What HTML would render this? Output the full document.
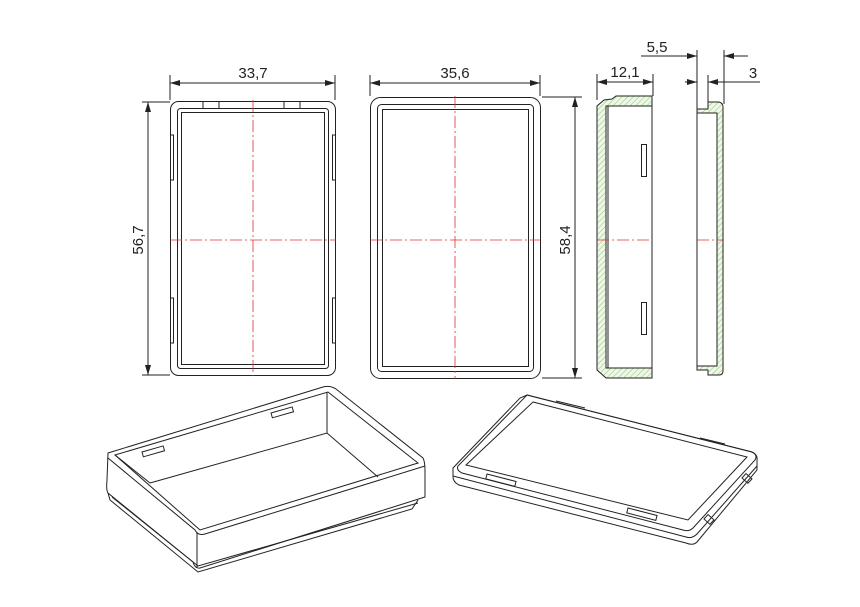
<!DOCTYPE html>
<html><head><meta charset="utf-8"><style>
html,body{margin:0;padding:0;background:#fff}
svg{display:block}
text{font-family:"Liberation Sans",sans-serif;font-size:15px;fill:#222}
</style></head><body>
<svg width="860" height="607" viewBox="0 0 860 607" xmlns="http://www.w3.org/2000/svg">
<defs>
<pattern id="h" width="4" height="4" patternUnits="userSpaceOnUse" patternTransform="rotate(45)">
<rect width="4" height="4" fill="#eef8e6"/><line x1="0" y1="0" x2="0" y2="4" stroke="#8fc07a" stroke-width="1"/>
</pattern>
<marker id="a" markerWidth="10" markerHeight="6" refX="10" refY="3" orient="auto" markerUnits="userSpaceOnUse">
<path d="M0,0 L10,3 L0,6 Z" fill="#222"/></marker>
</defs>
<g fill="none" stroke="#222" stroke-width="1">
<!-- View 1 -->
<rect x="170.5" y="101.5" width="165" height="274" rx="8"/>
<rect x="177.5" y="108.5" width="151" height="260" rx="3"/>
<rect x="181.5" y="112.5" width="143" height="252"/>
<line x1="203" y1="102" x2="203" y2="108"/><line x1="219" y1="102" x2="219" y2="108"/>
<line x1="284" y1="102" x2="284" y2="108"/><line x1="300" y1="102" x2="300" y2="108"/>
<rect x="170.5" y="135" width="3" height="45"/><rect x="170.5" y="298" width="3" height="45"/>
<rect x="332.5" y="135" width="3" height="45"/><rect x="332.5" y="298" width="3" height="45"/>
<line x1="170" y1="75" x2="170" y2="100"/><line x1="335" y1="75" x2="335" y2="100"/>
<line x1="253" y1="83" x2="170" y2="83" marker-end="url(#a)"/><line x1="253" y1="83" x2="335" y2="83" marker-end="url(#a)"/>
<line x1="142" y1="102" x2="170" y2="102"/><line x1="142" y1="375" x2="170" y2="375"/>
<line x1="148" y1="240" x2="148" y2="102" marker-end="url(#a)"/><line x1="148" y1="240" x2="148" y2="375" marker-end="url(#a)"/>
<!-- View 2 -->
<rect x="370.5" y="97.5" width="170" height="281" rx="10"/>
<rect x="377.5" y="104.5" width="156" height="267" rx="4"/>
<rect x="382.5" y="109.5" width="146" height="257"/>
<line x1="370" y1="75" x2="370" y2="96"/><line x1="540" y1="75" x2="540" y2="96"/>
<line x1="455" y1="83" x2="370" y2="83" marker-end="url(#a)"/><line x1="455" y1="83" x2="540" y2="83" marker-end="url(#a)"/>
<line x1="542" y1="97" x2="582" y2="97"/><line x1="542" y1="378" x2="582" y2="378"/>
<line x1="575" y1="240" x2="575" y2="97" marker-end="url(#a)"/><line x1="575" y1="240" x2="575" y2="378" marker-end="url(#a)"/>
<!-- View 3 section -->
<path d="M606,378 L597,370 L597,106 L604,100 L612,99 L616,96 L652,96 L652,106 L606,106 L606,368 L652,368 L652,378 Z" fill="url(#h)"/>
<line x1="608" y1="106" x2="608" y2="368"/>
<line x1="652" y1="106" x2="652" y2="368"/>
<rect x="641.5" y="144.5" width="5" height="32"/><rect x="641.5" y="302.5" width="5" height="32"/>
<line x1="597" y1="74" x2="597" y2="100"/><line x1="653" y1="74" x2="653" y2="96"/>
<line x1="625" y1="82" x2="597" y2="82" marker-end="url(#a)"/><line x1="625" y1="82" x2="653" y2="82" marker-end="url(#a)"/>
<!-- View 4 section -->
<path d="M697,113 L697,109 L708,109 L708,102 L719,102 Q723,103 723,107 L723,371 Q723,375 719,375 L708,375 L708,370 L697,370 L697,366 L717,366 L717,113 Z" fill="url(#h)"/>
<line x1="697" y1="113" x2="697" y2="366"/>
<line x1="697" y1="50" x2="697" y2="109"/><line x1="724" y1="50" x2="724" y2="104"/><line x1="708" y1="75" x2="708" y2="102"/>
<line x1="641" y1="56" x2="697" y2="56" marker-end="url(#a)"/><line x1="748" y1="56" x2="724" y2="56" marker-end="url(#a)"/>
<line x1="685" y1="82" x2="697" y2="82" marker-end="url(#a)"/><line x1="760" y1="82" x2="708" y2="82" marker-end="url(#a)"/>
<!-- Iso box left -->
<path d="M108,453 L323,387 Q330,385 336,389 L423,458 Q425,462 425,470 L425,497 L200,568 Q195,569 193,562 L108,493 Q106,490 107,480 Z"/>
<path d="M115,455 L328,392 L418,463 L200,530 Z"/>
<path d="M108,458 L195,530 Q198,536 205,534 L425,466"/>
<line x1="197" y1="533" x2="197" y2="568"/>
<path d="M150,483 L327,433 L378,477"/>
<line x1="327" y1="392" x2="327" y2="433"/>
<line x1="115" y1="455" x2="150" y2="483"/>
<path d="M108,493 L110,500 L198,572 L412,509 L418,500"/>
<path d="M112,497 L198,566 L418,503"/>
<rect x="0" y="0" width="22" height="5" transform="translate(142,452) rotate(-16)"/>
<rect x="0" y="0" width="22" height="5" transform="translate(271,413) rotate(-16)"/>
<!-- Iso lid right -->
<path d="M527,395 L752,452 Q758,455 757,460 L757,470 L697,542 Q693,546 686,543 L459,485 Q453,482 453,477 L453,468 L520,398 Z"/>
<path d="M527,395 L752,452 Q758,455 755,460 L693,528 Q689,532 683,530 L462,473 Q456,470 458,466 Z"/>
<path d="M533,402 L747,457 L688,520 L466,465 Z"/>
<path d="M453,476 L686,537 Q692,539 697,534 L757,466"/>
<rect x="0" y="0" width="30" height="5" transform="translate(487,474) rotate(14.5)"/>
<rect x="0" y="0" width="30" height="5" transform="translate(628,508) rotate(14.5)"/>
<line x1="556" y1="401" x2="585" y2="408"/><line x1="700" y1="438" x2="725" y2="444"/>
<rect x="0" y="0" width="6" height="8" transform="translate(742,478) rotate(-48)"/>
<rect x="0" y="0" width="6" height="8" transform="translate(704,519) rotate(-48)"/>
</g>
<g stroke="#e03030" stroke-width="0.8" stroke-dasharray="12,3,2,3" fill="none">
<line x1="253" y1="100" x2="253" y2="376"/><line x1="170" y1="240" x2="336" y2="240"/>
<line x1="455" y1="96" x2="455" y2="379"/><line x1="370" y1="240" x2="541" y2="240"/>
<line x1="597" y1="240" x2="652" y2="240"/><line x1="697" y1="240" x2="724" y2="240"/>
</g>
<text x="253" y="78" text-anchor="middle">33,7</text>
<text x="455" y="78" text-anchor="middle">35,6</text>
<text x="625" y="77" text-anchor="middle">12,1</text>
<text x="657" y="52" text-anchor="middle">5,5</text>
<text x="753" y="78" text-anchor="middle">3</text>
<text transform="translate(143,240) rotate(-90)" text-anchor="middle">56,7</text>
<text transform="translate(570,240) rotate(-90)" text-anchor="middle">58,4</text>
</svg>
</body></html>
